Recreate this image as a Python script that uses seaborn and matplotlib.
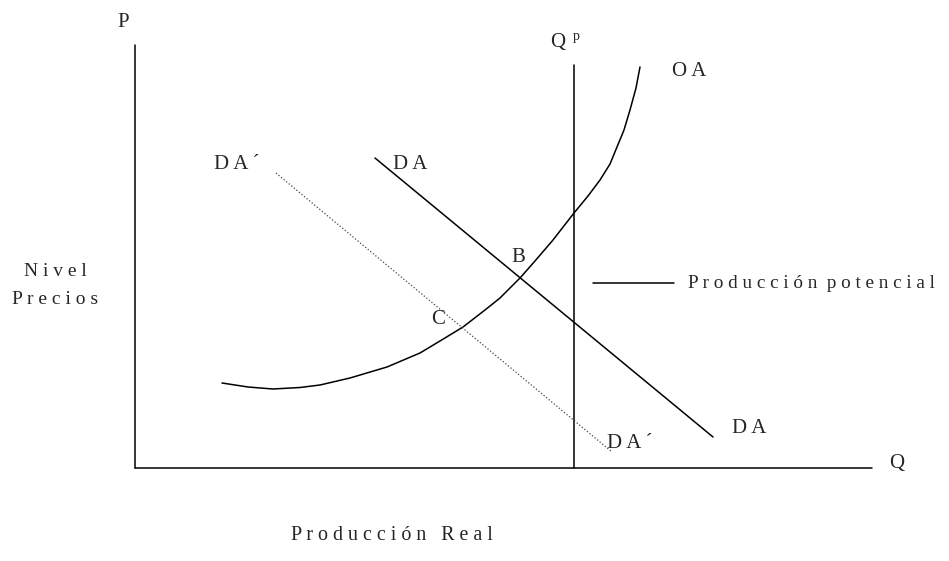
import numpy as np
import pandas as pd
import seaborn as sns
import matplotlib
matplotlib.use("Agg")
import matplotlib.pyplot as plt

# curve points (pixel space of the 949x561 image, y down)
oa_x = [222, 248, 273, 300, 320, 350, 387, 420, 440, 463, 485, 500, 520, 535,
        553, 574, 588, 600, 610, 617, 624, 630, 636, 640]
oa_y = [383, 387, 389, 387.5, 385, 378, 367, 353, 341, 327, 310, 298, 278, 261,
        240, 213, 196, 180, 164, 147, 130, 110, 88, 67]

da_x = [375, 713]
da_y = [158, 437]

da2_x = [276, 612]
da2_y = [173, 452]

qp_x = [574, 574]
qp_y = [65, 468]

yaxis_x = [135, 135]
yaxis_y = [45, 468]
xaxis_x = [135, 872]
xaxis_y = [468, 468]

legend_x = [593, 674]
legend_y = [283, 283]

sns.set_theme(style="white")
plt.rcParams['font.family'] = ['Liberation Serif', 'DejaVu Serif']

fig = plt.figure(figsize=(9.49, 5.61), dpi=100)
ax = fig.add_axes([0, 0, 1, 1])

def draw(xs, ys, **kw):
    df = pd.DataFrame({'x': xs, 'y': ys})
    sns.lineplot(data=df, x='x', y='y', ax=ax, estimator=None, sort=False,
                 legend=False, solid_joinstyle='round', **kw)

draw(yaxis_x, yaxis_y, color='black', linewidth=1.1)
draw(xaxis_x, xaxis_y, color='black', linewidth=1.1)
draw(qp_x, qp_y, color='black', linewidth=1.1)
draw(oa_x, oa_y, color='black', linewidth=1.1)
draw(da_x, da_y, color='black', linewidth=1.1)
draw(da2_x, da2_y, color='#444444', linewidth=0.9, linestyle=':')
draw(legend_x, legend_y, color='black', linewidth=1.1)

lab = 15
tit = 14.4
ax.text(123, 22, "P", fontsize=lab, ha='center', va='center')
ax.text(897, 463, "Q", fontsize=lab, ha='center', va='center')
ax.text(558, 42, "Q", fontsize=lab, ha='center', va='center')
ax.text(576, 36, "p", fontsize=10, ha='center', va='center')
ax.text(689, 71, "O A", fontsize=lab, ha='center', va='center')
ax.text(410, 164, "D A", fontsize=lab, ha='center', va='center')
ax.text(237, 164, "D A ´", fontsize=lab, ha='center', va='center')
ax.text(749, 428, "D A", fontsize=lab, ha='center', va='center')
ax.text(630, 443, "D A ´", fontsize=lab, ha='center', va='center')
ax.text(518, 257, "B", fontsize=lab, ha='center', va='center')
ax.text(438, 319, "C", fontsize=lab, ha='center', va='center')
ax.text(55, 271, "N i v e l", fontsize=14, ha='center', va='center')
ax.text(55, 299, "P r e c i o s", fontsize=14, ha='center', va='center')
ax.text(688, 283, "P r o d u c c i ó n  p o t e n c i a l", fontsize=13.8,
        ha='left', va='center')
ax.text(392, 536, "P r o d u c c i ó n   R e a l", fontsize=tit,
        ha='center', va='center')

ax.set_xlim(0, 949)
ax.set_ylim(561, 0)
ax.axis('off')

fig.savefig("out.png", dpi=100, facecolor='white')
